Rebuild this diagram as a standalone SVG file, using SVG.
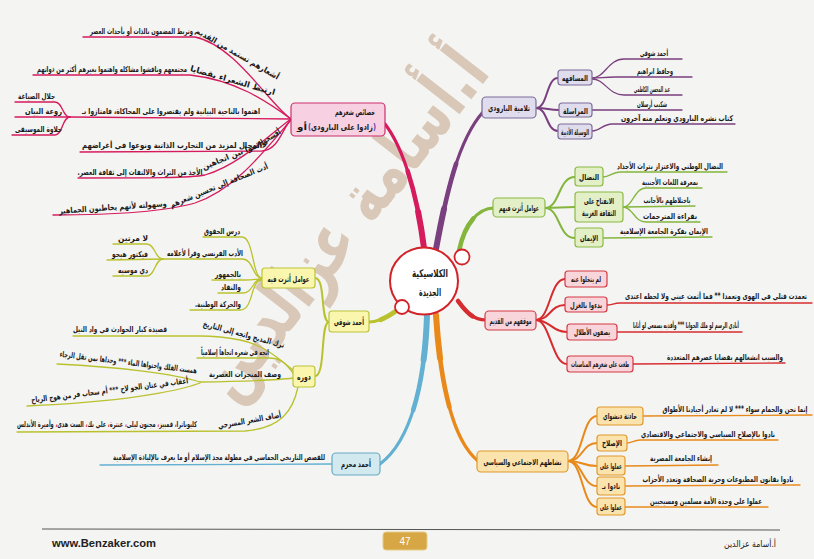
<svg xmlns="http://www.w3.org/2000/svg" width="814" height="559" viewBox="0 0 814 559">
<style>
.t{font-family:"DejaVu Sans","Noto Sans",sans-serif;font-weight:bold;fill:#1a1a1a;text-anchor:middle;direction:rtl;font-size:8px}
.b{font-size:8.5px}
.c{font-size:10.5px}
.ln{fill:none;stroke-linecap:round;stroke-linejoin:round}
.m{stroke-width:3.2}
.m2{stroke-width:4.6;stroke-dasharray:60 200}
.m3{stroke-width:6;stroke-dasharray:28 200}
.s{stroke-width:2}
.l{stroke-width:1.3}
.pu{stroke:#7a3f7e}.gr{stroke:#84b53c}.rd{stroke:#d62b2f}.or{stroke:#e8891a}.bl{stroke:#62b0d2}.yg{stroke:#b9c22e}.cr{stroke:#d61a5e}
.bpu{fill:#dfdcee;stroke:#7d6d99;stroke-width:1.2}
.bgr{fill:#e3efc6;stroke:#8cba45;stroke-width:1.2}
.brd{fill:#f8d5da;stroke:#d43a45;stroke-width:1.2}
.bor{fill:#fbe3ad;stroke:#e29a2e;stroke-width:1.2}
.bbl{fill:#d2e9ef;stroke:#68a9c4;stroke-width:1.2}
.byg{fill:#fbf6ae;stroke:#bcc43a;stroke-width:1.2}
.bcr{fill:#f7d0e1;stroke:#cc2f6c;stroke-width:1.2}
</style>
<rect x="0" y="0" width="814" height="559" fill="#f4f4f2"/>

<!-- watermark -->
<text class="t" transform="translate(345,225) rotate(-52)" x="0" y="22" style="font-size:72px;fill:#b48e6a;opacity:0.42" textLength="420" lengthAdjust="spacingAndGlyphs">أ.أسامة عزالدين</text>

<g id="connectors">
  <!-- main branches (tapered by layering) -->
  <path class="ln m pu" d="M436,249 C446,195 458,140 483,112"/>
  <path class="ln m2 pu" pathLength="100" d="M436,249 C446,195 458,140 483,112"/>
  <path class="ln m3 pu" pathLength="100" d="M436,249 C446,195 458,140 483,112"/>
  <path class="ln m cr" d="M424,248 C418,200 405,150 385,124"/>
  <path class="ln m2 cr" pathLength="100" d="M424,248 C418,200 405,150 385,124"/>
  <path class="ln m3 cr" pathLength="100" d="M424,248 C418,200 405,150 385,124"/>
  <path class="ln m gr" d="M459,251 C464,226 477,208 494,208"/>
  <path class="ln m2 gr" pathLength="100" d="M459,251 C464,226 477,208 494,208"/>
  <path class="ln m rd" d="M458,301 C466,312 473,320 486,320"/>
  <path class="ln m2 rd" pathLength="100" d="M458,301 C466,312 473,320 486,320"/>
  <path class="ln m yg" d="M396,311 C386,318 378,322 369,322"/>
  <path class="ln m2 yg" pathLength="100" d="M396,311 C386,318 378,322 369,322"/>
  <path class="ln m bl" d="M427,315 C425,380 412,440 380,464"/>
  <path class="ln m2 bl" pathLength="100" d="M427,315 C425,380 412,440 380,464"/>
  <path class="ln m3 bl" pathLength="100" d="M427,315 C425,380 412,440 380,464"/>
  <path class="ln m or" d="M436,315 C440,380 452,440 478,461"/>
  <path class="ln m2 or" pathLength="100" d="M436,315 C440,380 452,440 478,461"/>
  <path class="ln m3 or" pathLength="100" d="M436,315 C440,380 452,440 478,461"/>
  <!-- sub purple -->
  <path class="ln s pu" d="M536,108 C548,108 546,78 558,78"/>
  <path class="ln s pu" d="M536,108 C548,108 548,110 559,110"/>
  <path class="ln s pu" d="M536,108 C548,108 546,131 558,131"/>
  <!-- sub green -->
  <path class="ln s gr" d="M545,208 C560,208 558,177 575,177"/>
  <path class="ln s gr" d="M545,208 L575,207"/>
  <path class="ln s gr" d="M545,208 C560,208 558,238 575,238"/>
  <!-- sub red -->
  <path class="ln s rd" d="M536,320 C550,320 550,279 565,279"/>
  <path class="ln s rd" d="M536,320 C550,320 550,305 565,305"/>
  <path class="ln s rd" d="M536,320 C550,320 552,332 567,332"/>
  <path class="ln s rd" d="M536,320 C550,320 552,364 567,364"/>
  <!-- sub orange -->
  <path class="ln s or" d="M568,461 C583,461 582,416 597,416"/>
  <path class="ln s or" d="M568,461 C583,461 582,443 597,443"/>
  <path class="ln s or" d="M568,461 C583,461 582,466 597,466"/>
  <path class="ln s or" d="M568,461 C583,461 582,486 597,486"/>
  <path class="ln s or" d="M568,461 C583,461 582,507 597,507"/>
  <!-- sub yellow-green -->
  <path class="ln s yg" d="M329,322 C320,322 326,278 315,278"/>
  <path class="ln s yg" d="M329,322 C320,322 326,376 315,376"/>
  <!-- leaves purple -->
  <path class="ln l pu" d="M592,78 C605,78 608,59 624,59 L682,59"/>
  <path class="ln l pu" d="M592,78 C600,78 605,77 615,77 L692,77"/>
  <path class="ln l pu" d="M592,79 C605,79 608,95 624,95 L682,95"/>
  <path class="ln l pu" d="M592,110 L682,110"/>
  <path class="ln l pu" d="M592,131 C600,131 603,124 612,124 L735,124"/>
  <!-- leaves green -->
  <path class="ln l gr" d="M603,177 C610,177 612,172 620,172 L727,172"/>
  <path class="ln l gr" d="M623,207 C633,207 634,188 646,188 L702,188"/>
  <path class="ln l gr" d="M623,207 L695,206"/>
  <path class="ln l gr" d="M623,207 C633,207 634,222 646,222 L700,222"/>
  <path class="ln l gr" d="M603,238 L712,237"/>
  <!-- leaves red -->
  <path class="ln l rd" d="M607,305 C612,305 614,303 620,303 L812,303"/>
  <path class="ln l rd" d="M617,332 L742,332"/>
  <path class="ln l rd" d="M633,364 L785,363"/>
  <!-- leaves orange -->
  <path class="ln l or" d="M643,416 L812,415"/>
  <path class="ln l or" d="M627,443 C632,443 634,440 640,440 L778,440"/>
  <path class="ln l or" d="M625,466 L718,465"/>
  <path class="ln l or" d="M625,486 L800,485"/>
  <path class="ln l or" d="M625,507 L768,507"/>
  <!-- leaf blue -->
  <path class="ln l bl" d="M332,464 L100,465"/>
  <!-- leaves yellow-green: عوامل أثرت فيه -->
  <path class="ln l yg" d="M262,278 C252,278 254,237 242,237 L203,237"/>
  <path class="ln l yg" d="M262,278 C252,278 254,259 242,259 L163,259"/>
  <path class="ln l yg" d="M262,279 C256,279 254,280 246,280 L212,280"/>
  <path class="ln l yg" d="M262,279 C252,279 254,293 242,293 L218,293"/>
  <path class="ln l yg" d="M262,280 C250,280 254,310 240,310 L190,310"/>
  <path class="ln l yg" d="M163,259 C155,259 155,244 147,244 L113,244"/>
  <path class="ln l yg" d="M163,259 L107,260"/>
  <path class="ln l yg" d="M163,259 C155,259 155,276 147,276 L113,276"/>
  <!-- leaves yellow-green: دوره -->
  <path class="ln l yg" d="M293,370 C280,360 265,345 240,340 C225,337 212,336 200,336 L73,336"/>
  <path class="ln l yg" d="M293,373 C285,362 280,358 268,358 L197,358"/>
  <path class="ln l yg" d="M293,378 C280,380 260,381 200,382"/>
  <path class="ln l yg" d="M200,382 C175,374 120,367 57,364"/>
  <path class="ln l yg" d="M200,383 C175,392 120,402 27,406"/>
  <path class="ln l yg" d="M298,387 C293,410 282,428 245,431 L17,432"/>
  <!-- leaves crimson -->
  <path class="ln l cr" d="M291,119 C270,105 235,45 195,37 L83,37"/>
  <path class="ln l cr" d="M291,119 C265,100 235,80 190,75 L33,75"/>
  <path class="ln l cr" d="M291,119 L70,117"/>
  <path class="ln l cr" d="M70,117 C62,117 63,102 55,102 L15,102"/>
  <path class="ln l cr" d="M70,117 L15,117"/>
  <path class="ln l cr" d="M70,117 C62,117 63,135 55,135 L12,135"/>
  <path class="ln l cr" d="M291,119 C282,130 278,150 262,151 L80,152"/>
  <path class="ln l cr" d="M291,119 C275,130 240,165 205,175 C190,178 150,178 78,178"/>
  <path class="ln l cr" d="M291,120 C265,150 235,190 195,203 C160,213 100,215 53,215"/>
</g>

<!-- center -->
<g id="center">
  <ellipse cx="424" cy="281" rx="34" ry="33.5" fill="#ffffff" stroke="#d2232a" stroke-width="2"/>
  <circle cx="462" cy="257" r="7.5" fill="#ffffff" stroke="#d2232a" stroke-width="1.8"/>
  <circle cx="402" cy="307" r="7" fill="#ffffff" stroke="#d2232a" stroke-width="1.8"/>
  <text class="t c" x="430" y="277" textLength="36" lengthAdjust="spacingAndGlyphs">الكلاسيكية</text>
  <text class="t c" x="430" y="296" textLength="22" lengthAdjust="spacingAndGlyphs">الجديدة</text>
</g>

<!-- purple -->
<g id="n-talamidh"><rect class="bpu" x="482" y="97" width="54" height="21" rx="4"/><text class="t b" x="509" y="111" textLength="42" lengthAdjust="spacingAndGlyphs">تلامية البارودي</text></g>
<g id="n-mushafaha"><rect class="bpu" x="558" y="70" width="34" height="15" rx="3"/><text class="t b" x="575" y="81" textLength="26" lengthAdjust="spacingAndGlyphs">المسافهه</text></g>
<g id="n-murasala"><rect class="bpu" x="559" y="103" width="33" height="14" rx="3"/><text class="t b" x="575.5" y="113.5" textLength="25" lengthAdjust="spacingAndGlyphs">المراسلة</text></g>
<g id="n-wasila"><rect class="bpu" x="558" y="124" width="34" height="15" rx="3"/><text class="t b" x="575" y="134.5" textLength="28" lengthAdjust="spacingAndGlyphs">الوسيلة الأدبية</text></g>
<g id="l-shawqi1"><text class="t" x="654" y="56" textLength="28" lengthAdjust="spacingAndGlyphs">أحمد شوقي</text></g>
<g id="l-hafez"><text class="t" x="655" y="74" textLength="36" lengthAdjust="spacingAndGlyphs">وحافظ ابراهيم</text></g>
<g id="l-kazimi"><text class="t" x="652" y="92" textLength="36" lengthAdjust="spacingAndGlyphs">عبد المحسن الكاظمي</text></g>
<g id="l-shakib"><text class="t" x="652" y="107" textLength="30" lengthAdjust="spacingAndGlyphs">شكيب أرسلان</text></g>
<g id="l-kitab"><text class="t" x="677" y="121" textLength="112" lengthAdjust="spacingAndGlyphs">كتاب نشره البارودي وتعلم منه آخرون</text></g>

<!-- green -->
<g id="n-awamil"><rect class="bgr" x="493" y="198" width="52" height="19" rx="4"/><text class="t b" x="519" y="211" textLength="40" lengthAdjust="spacingAndGlyphs">عوامل أثرت فيهم</text></g>
<g id="n-nidal"><rect class="bgr" x="575" y="167" width="28" height="19" rx="3"/><text class="t b" x="589" y="180" textLength="20" lengthAdjust="spacingAndGlyphs">النضال</text></g>
<g id="n-infitah"><rect class="bgr" x="575" y="192" width="48" height="30" rx="3"/><text class="t b" x="599" y="204" textLength="30" lengthAdjust="spacingAndGlyphs">الانفتاح على</text><text class="t b" x="599" y="216" textLength="34" lengthAdjust="spacingAndGlyphs">الثقافة الغربية</text></g>
<g id="n-iman"><rect class="bgr" x="575" y="228" width="28" height="19" rx="3"/><text class="t b" x="589" y="241" textLength="18" lengthAdjust="spacingAndGlyphs">الإيمان</text></g>
<g id="l-nidal"><text class="t" x="670" y="169" textLength="106" lengthAdjust="spacingAndGlyphs">النضال الوطني والاعتزاز بتراث الأجداد</text></g>
<g id="l-lughat"><text class="t" x="670" y="185" textLength="56" lengthAdjust="spacingAndGlyphs">بمعرفة اللغات الأجنبية</text></g>
<g id="l-ikhtilat"><text class="t" x="667" y="203" textLength="47" lengthAdjust="spacingAndGlyphs">باختلاطهم بالأجانب</text></g>
<g id="l-qiraa"><text class="t" x="670" y="219" textLength="54" lengthAdjust="spacingAndGlyphs">بقراءة المترجمات</text></g>
<g id="l-jamia"><text class="t" x="664" y="234" textLength="88" lengthAdjust="spacingAndGlyphs">الإيمان بفكرة الجامعة الإسلامية</text></g>

<!-- red -->
<g id="n-mawqif"><rect class="brd" x="485" y="311" width="51" height="19" rx="4"/><text class="t b" x="510.5" y="324" textLength="42" lengthAdjust="spacingAndGlyphs">موقفهم من القديم</text></g>
<g id="n-lam"><rect class="brd" x="565" y="271" width="42" height="16" rx="3"/><text class="t b" x="586" y="282" textLength="30" lengthAdjust="spacingAndGlyphs">لم يتخلوا عنه</text></g>
<g id="n-ghazal"><rect class="brd" x="565" y="297" width="42" height="15" rx="3"/><text class="t b" x="586" y="308" textLength="32" lengthAdjust="spacingAndGlyphs">بدءوا بالغزل</text></g>
<g id="n-atlal"><rect class="brd" x="567" y="324" width="50" height="16" rx="3"/><text class="t b" x="592" y="335" textLength="36" lengthAdjust="spacingAndGlyphs">يصفون الأطلال</text></g>
<g id="n-munasabat"><rect class="brd" x="567" y="356" width="66" height="16" rx="3"/><text class="t b" x="600" y="367" textLength="58" lengthAdjust="spacingAndGlyphs">طغت على شعرهم المناسبات</text></g>
<g id="l-taammadat"><text class="t" x="716" y="299" textLength="182" lengthAdjust="spacingAndGlyphs">تعمدت قتلي في الهوى وتعمدا ** فما أثمت عيني ولا لحظه اعتدى</text></g>
<g id="l-unadi"><text class="t" x="686" y="328" textLength="106" lengthAdjust="spacingAndGlyphs">أنادي الرسم لو ملك الجوابا *** وأفديه بسمعي لو أثابا</text></g>
<g id="l-sabab"><text class="t" x="725" y="360" textLength="116" lengthAdjust="spacingAndGlyphs">والسبب انشغالهم بقضايا عصرهم المتعددة</text></g>

<!-- orange -->
<g id="n-nashat"><rect class="bor" x="477" y="451" width="91" height="21" rx="4"/><text class="t b" x="522.5" y="465" textLength="78" lengthAdjust="spacingAndGlyphs">نشاطهم الاجتماعي والسياسي</text></g>
<g id="n-dinshway"><rect class="bor" x="597" y="407" width="46" height="18" rx="3"/><text class="t b" x="620" y="419" textLength="34" lengthAdjust="spacingAndGlyphs">حادثة دنشواي</text></g>
<g id="n-islah"><rect class="bor" x="597" y="435" width="30" height="16" rx="3"/><text class="t b" x="612" y="446" textLength="20" lengthAdjust="spacingAndGlyphs">الإصلاح</text></g>
<g id="n-amilu1"><rect class="bor" x="597" y="456" width="28" height="19" rx="3"/><text class="t b" x="611" y="469" textLength="22" lengthAdjust="spacingAndGlyphs">عملوا على</text></g>
<g id="n-nadu"><rect class="bor" x="597" y="477" width="28" height="18" rx="3"/><text class="t b" x="611" y="489" textLength="18" lengthAdjust="spacingAndGlyphs">نادوا بـ</text></g>
<g id="n-amilu2"><rect class="bor" x="597" y="498" width="28" height="17" rx="3"/><text class="t b" x="611" y="510" textLength="22" lengthAdjust="spacingAndGlyphs">عملوا على</text></g>
<g id="l-innama"><text class="t" x="735" y="412" textLength="145" lengthAdjust="spacingAndGlyphs">إنما نحن والحمام سواء *** لا لم تغادر أجيادنا الأطواق</text></g>
<g id="l-islah"><text class="t" x="708" y="437" textLength="134" lengthAdjust="spacingAndGlyphs">نادوا بالإصلاح السياسي والاجتماعي والاقتصادي</text></g>
<g id="l-jamia2"><text class="t" x="681" y="461" textLength="62" lengthAdjust="spacingAndGlyphs">إنشاء الجامعة المصرية</text></g>
<g id="l-qanun"><text class="t" x="718" y="482" textLength="151" lengthAdjust="spacingAndGlyphs">نادوا بقانون المطبوعات وحرية الصحافة وتعدد الأحزاب</text></g>
<g id="l-wahda"><text class="t" x="706" y="504" textLength="112" lengthAdjust="spacingAndGlyphs">عملوا على وحدة الأمة مسلمين ومسيحيين</text></g>

<!-- blue -->
<g id="n-muharram"><rect class="bbl" x="332" y="453" width="48" height="22" rx="4"/><text class="t b" x="356" y="467" textLength="30" lengthAdjust="spacingAndGlyphs">أحمد محرم</text></g>
<g id="l-qasas"><text class="t" x="219" y="460" textLength="212" lengthAdjust="spacingAndGlyphs">للقصص التاريخي الحماسي في مطولة مجد الإسلام أو ما يعرف بالإلياذة الإسلامية</text></g>

<!-- yellow-green -->
<g id="n-shawqi"><rect class="byg" x="329" y="311" width="40" height="21" rx="3"/><text class="t b" x="349" y="325" textLength="30" lengthAdjust="spacingAndGlyphs">أحمد شوقي</text></g>
<g id="n-awamil2"><rect class="byg" x="262" y="268" width="53" height="20" rx="3"/><text class="t b" x="288.5" y="281.5" textLength="42" lengthAdjust="spacingAndGlyphs">عوامل أثرت فيه</text></g>
<g id="n-dawruh"><rect class="byg" x="293" y="366" width="22" height="21" rx="3"/><text class="t b" x="304" y="380" textLength="14" lengthAdjust="spacingAndGlyphs">دوره</text></g>
<g id="l-huquq"><text class="t" x="222" y="234" textLength="36" lengthAdjust="spacingAndGlyphs">درس الحقوق</text></g>
<g id="l-adab"><text class="t" x="205" y="256" textLength="76" lengthAdjust="spacingAndGlyphs">الأدب الفرنسي وقرأ لأعلامه</text></g>
<g id="l-lamartin"><text class="t" x="133" y="241" textLength="30" lengthAdjust="spacingAndGlyphs">لا مرتين</text></g>
<g id="l-hugo"><text class="t" x="130" y="257" textLength="36" lengthAdjust="spacingAndGlyphs">فيكتور هيجو</text></g>
<g id="l-musset"><text class="t" x="133" y="273" textLength="30" lengthAdjust="spacingAndGlyphs">دي موسيه</text></g>
<g id="l-jumhur"><text class="t" x="228" y="277" textLength="26" lengthAdjust="spacingAndGlyphs">بالجمهور</text></g>
<g id="l-nuqqad"><text class="t" x="231" y="290" textLength="20" lengthAdjust="spacingAndGlyphs">والنقاد</text></g>
<g id="l-haraka"><text class="t" x="218" y="307" textLength="46" lengthAdjust="spacingAndGlyphs">والحركة الوطنية.</text></g>
<g id="l-tarak"><text class="t" transform="translate(243,337) rotate(15)" x="0" y="0" textLength="84" lengthAdjust="spacingAndGlyphs">ترك المديح واتجه إلى التاريخ</text></g>
<g id="l-qasida"><text class="t" x="120" y="332" textLength="94" lengthAdjust="spacingAndGlyphs">قصيدة كبار الحوادث في واد النيل</text></g>
<g id="l-ittajah"><text class="t" x="235" y="355" textLength="68" lengthAdjust="spacingAndGlyphs">اتجه في شعره اتجاهاً إسلامياً</text></g>
<g id="l-wasf"><text class="t" x="245" y="377" textLength="72" lengthAdjust="spacingAndGlyphs">وصف المنجزات العصرية</text></g>
<g id="l-hamasat"><text class="t" transform="translate(128,365) rotate(7)" x="0" y="0" textLength="138" lengthAdjust="spacingAndGlyphs">همست الفلك واحتواها الماء *** وحداها بمن تقل الرجاء</text></g>
<g id="l-uqab"><text class="t" transform="translate(110,393) rotate(-7)" x="0" y="0" textLength="158" lengthAdjust="spacingAndGlyphs">أعقاب في عنان الجو لاح *** أم سحاب فر من هوج الرياح</text></g>
<g id="l-adafa"><text class="t" transform="translate(250,423) rotate(-10)" x="0" y="0" textLength="64" lengthAdjust="spacingAndGlyphs">أضاف الشعر المسرحي</text></g>
<g id="l-cleo"><text class="t" x="107" y="427" textLength="180" lengthAdjust="spacingAndGlyphs">كليوباترا<tspan fill="#d0202a">،</tspan> قمبيز<tspan fill="#d0202a">،</tspan> مجنون ليلى<tspan fill="#d0202a">،</tspan> عنترة<tspan fill="#d0202a">،</tspan> علي بك<tspan fill="#d0202a">،</tspan> الست هدى<tspan fill="#d0202a">،</tspan> وأميرة الأندلس</text></g>

<!-- crimson -->
<g id="n-khasais"><rect class="bcr" x="291" y="103" width="94" height="33" rx="4"/><text class="t b" x="355" y="115" textLength="40" lengthAdjust="spacingAndGlyphs">خصائص شعرهم</text><text class="t b" x="302" y="130" textLength="10" lengthAdjust="spacingAndGlyphs">أو</text><text class="t b" x="342" y="130" style="fill:#5b3fa6" textLength="68" lengthAdjust="spacingAndGlyphs">(<tspan fill="#1a1a1a">زادوا على البارودي</tspan>)</text></g>
<g id="l-ashar"><text class="t" x="141.5" y="34" textLength="103" lengthAdjust="spacingAndGlyphs">وتربط المضمون بالذات أو بأحداث العصر</text><text class="t" transform="translate(236,56) rotate(30)" x="0" y="0" textLength="95" lengthAdjust="spacingAndGlyphs">أشعارهم تستمد من القديم</text></g>
<g id="l-irtabat"><text class="t" x="112" y="72" textLength="150" lengthAdjust="spacingAndGlyphs">مجتمعهم وناقشوا مشاكله واهتموا بغيرهم أكثر من ذواتهم</text><text class="t" transform="translate(232,83) rotate(16)" x="0" y="0" textLength="88" lengthAdjust="spacingAndGlyphs">ارتبط الشعراء بقضايا</text></g>
<g id="l-ihtammu"><text class="t" x="171" y="114" textLength="178" lengthAdjust="spacingAndGlyphs">اهتموا بالناحية البيانية ولم يقتصروا على المحاكاة، فامتازوا بـ</text></g>
<g id="l-jalal"><text class="t" x="36.5" y="99" textLength="37" lengthAdjust="spacingAndGlyphs">جلال الصياغة</text></g>
<g id="l-rawa"><text class="t" x="43.5" y="114" textLength="37" lengthAdjust="spacingAndGlyphs">روعة البيان</text></g>
<g id="l-halawa"><text class="t" x="38.5" y="132" textLength="47" lengthAdjust="spacingAndGlyphs">حلاوة الموسيقى</text></g>
<g id="l-afsahu"><text class="t" x="172" y="148" textLength="180" lengthAdjust="spacingAndGlyphs">المجال لمزيد من التجارب الذاتية ونوعوا في أغراضهم</text><text class="t" transform="translate(272,139) rotate(-32)" x="0" y="0" textLength="22" lengthAdjust="spacingAndGlyphs">أفسحوا</text></g>
<g id="l-waamu"><text class="t" x="140" y="175" textLength="125" lengthAdjust="spacingAndGlyphs">الأخذ من التراث والالتفات إلى ثقافة العصر.</text><text class="t" transform="translate(235,157) rotate(-22)" x="0" y="0" textLength="68" lengthAdjust="spacingAndGlyphs">وائموا بين اتجاهين</text></g>
<g id="l-adat"><text class="t" transform="translate(113,210) rotate(-4)" x="0" y="0" textLength="108" lengthAdjust="spacingAndGlyphs">وسهولته لأنهم يخاطبون الجماهير</text><text class="t" transform="translate(220,188) rotate(-22)" x="0" y="0" textLength="105" lengthAdjust="spacingAndGlyphs">أدت الصحافة إلى تحسين شعرهم</text></g>

<!-- footer -->
<g id="footer">
  <line x1="42" y1="529" x2="780" y2="530" stroke="#555" stroke-width="1"/>
  <rect x="383" y="532" width="44" height="18" rx="3" fill="#d6a744" stroke="#e8cc88" stroke-width="1"/>
  <text x="405" y="545" style="font-family:'Liberation Sans',sans-serif;font-size:10px;fill:#ffffff;text-anchor:middle">47</text>
  <text x="52" y="547" style="font-family:'Liberation Sans',sans-serif;font-weight:bold;font-size:10.5px;fill:#222" textLength="104" lengthAdjust="spacingAndGlyphs">www.Benzaker.com</text>
  <text class="t" x="750" y="547" style="font-size:9px;font-weight:normal" textLength="52" lengthAdjust="spacingAndGlyphs">أ.أسامة عزالدين</text>
</g>
</svg>
